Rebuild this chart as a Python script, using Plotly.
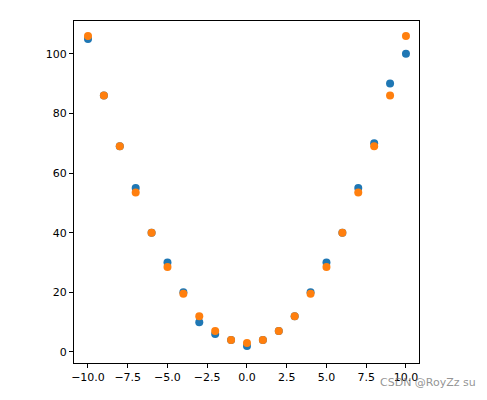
import plotly.graph_objects as go

x = list(range(-10, 11))
blue = [105, 86, 69, 55, 40, 30, 20, 10, 6, 4, 2, 4, 7, 12, 20, 30, 40, 55, 70, 90, 100]
orange = [106, 86, 69, 53.5, 40, 28.5, 19.5, 12, 7, 4, 3, 4, 7, 12, 19.5, 28.5, 40, 53.5, 69, 86, 106]

fig = go.Figure()
fig.add_trace(go.Scatter(x=x, y=blue, mode="markers", marker=dict(color="#1f77b4", size=8)))
fig.add_trace(go.Scatter(x=x, y=orange, mode="markers", marker=dict(color="#ff7f0e", size=8)))

ax = dict(showgrid=False, zeroline=False, showline=True, linecolor="black", mirror=True,
          ticks="outside", ticklen=4, tickcolor="black", tickfont=dict(size=11, color="black", family="DejaVu Sans"))
fig.update_layout(
    width=487, height=400, showlegend=False,
    plot_bgcolor="white", paper_bgcolor="white",
    margin=dict(l=66, r=76, t=13, b=45),
    xaxis=dict(range=[-10.88, 10.82], tickvals=[-10, -7.5, -5, -2.5, 0, 2.5, 5, 7.5, 10],
               ticktext=["−10.0", "−7.5", "−5.0", "−2.5", "0.0", "2.5", "5.0", "7.5", "10.0"], **ax),
    yaxis=dict(range=[-3.7, 111], tickvals=[0, 20, 40, 60, 80, 100], **ax),
    annotations=[dict(text="CSDN @RoyZz su", xref="paper", yref="paper", x=1.17, y=-0.056,
                      xanchor="right", yanchor="middle", showarrow=False,
                      font=dict(size=11, color="rgba(120,120,120,0.8)", family="DejaVu Sans"))],
)
fig.write_html("out.html")
